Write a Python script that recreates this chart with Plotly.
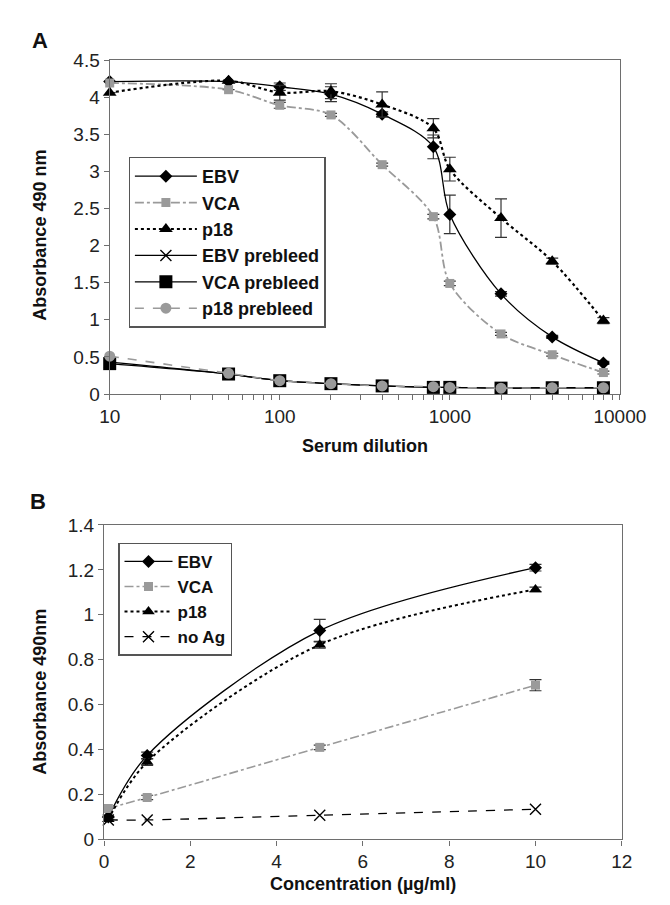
import plotly.graph_objects as go

# ---------------- data ----------------
dilution = [10, 50, 100, 200, 400, 800, 1000, 2000, 4000, 8000]
ebv_a = [4.21, 4.21, 4.14, 4.04, 3.77, 3.33, 2.42, 1.35, 0.77, 0.42]
ebv_a_err = [0.0, 0.0, 0.05, 0.10, 0.03, 0.16, 0.26, 0.03, 0.02, 0.02]
vca_a = [4.19, 4.10, 3.89, 3.76, 3.09, 2.39, 1.49, 0.81, 0.53, 0.29]
vca_a_err = [0.0, 0.0, 0.04, 0.02, 0.02, 0.03, 0.03, 0.02, 0.02, 0.02]
p18_a = [4.06, 4.22, 4.06, 4.08, 3.90, 3.58, 3.03, 2.37, 1.79, 0.99]
p18_a_err = [0.0, 0.0, 0.10, 0.10, 0.17, 0.13, 0.16, 0.26, 0.04, 0.04]
ebv_pre = [0.43, 0.27, 0.18, 0.14, 0.11, 0.09, 0.09, 0.08, 0.085, 0.085]
vca_pre = [0.41, 0.27, 0.18, 0.14, 0.11, 0.09, 0.09, 0.08, 0.085, 0.085]
p18_pre = [0.51, 0.28, 0.18, 0.14, 0.11, 0.10, 0.09, 0.08, 0.085, 0.085]

conc = [0.1, 1, 5, 10]
ebv_b = [0.10, 0.374, 0.93, 1.21]
ebv_b_err = [0.0, 0.015, 0.05, 0.015]
vca_b = [0.138, 0.187, 0.41, 0.687]
vca_b_err = [0.0, 0.01, 0.01, 0.025]
p18_b = [0.09, 0.345, 0.867, 1.113]
p18_b_err = [0.0, 0.015, 0.015, 0.01]
noag_b = [0.087, 0.087, 0.108, 0.135]

names_a = ["EBV", "VCA", "p18", "EBV prebleed", "VCA prebleed", "p18 prebleed"]
names_b = ["EBV", "VCA", "p18", "no Ag"]

# ---------------- styling ----------------
W, H = 670, 905
FONT = "Liberation Sans, Arial, sans-serif"
GREY = "#9a9a9a"
AX = "#6e6e6e"
ERR = "#333333"


def px(x):
    return x / W


def py(y):
    return 1 - y / H


fig = go.Figure()


def add(x, y, name, xa, ya, legend, color, dash, width, symbol, msize,
        err=None, mline=None, mcolor=None):
    marker = dict(symbol=symbol, size=msize, color=mcolor or color)
    if mline:
        marker["line"] = mline
    tr = go.Scatter(
        x=x, y=y, name=name, mode="lines+markers",
        xaxis=xa, yaxis=ya, legend=legend, legendgroup=legend + name,
        line=dict(color=color, dash=dash, width=width, shape="spline", smoothing=0.9),
        marker=marker, cliponaxis=False,
    )
    if err is not None:
        tr.error_y = dict(type="data", array=err, visible=True, color=ERR,
                          thickness=1.2, width=6)
    fig.add_trace(tr)


# Panel A
add(dilution, ebv_a, names_a[0], "x", "y", "legend", "black", "solid", 1.3,
    "diamond", 10, ebv_a_err)
add(dilution, vca_a, names_a[1], "x", "y", "legend", GREY, "dashdot", 1.8,
    "square", 9, vca_a_err)
add(dilution, p18_a, names_a[2], "x", "y", "legend", "black", "dot", 2.2,
    "triangle-up", 12, p18_a_err)
add(dilution, ebv_pre, names_a[3], "x", "y", "legend", "black", "solid", 1.3,
    "x-thin-open", 11, mline=dict(color="black", width=1.4))
add(dilution, vca_pre, names_a[4], "x", "y", "legend", "black", "solid", 1.3,
    "square", 13)
add(dilution, p18_pre, names_a[5], "x", "y", "legend", GREY, "dash", 1.6,
    "circle", 11)

# Panel B
add(conc, ebv_b, names_b[0], "x2", "y2", "legend2", "black", "solid", 1.3,
    "diamond", 10, ebv_b_err)
add(conc, vca_b, names_b[1], "x2", "y2", "legend2", GREY, "dashdot", 1.6,
    "square", 9, vca_b_err)
add(conc, p18_b, names_b[2], "x2", "y2", "legend2", "black", "dot", 2.0,
    "triangle-up", 11, p18_b_err)
add(conc, noag_b, names_b[3], "x2", "y2", "legend2", "black", "dash", 1.3,
    "x-thin-open", 11, mline=dict(color="black", width=1.4))

axis_common = dict(showline=True, linecolor=AX, linewidth=1.3, mirror=True,
                   ticks="outside", ticklen=5, tickcolor=AX, showgrid=False,
                   zeroline=False, tickfont=dict(family=FONT, size=19, color="#222"))

fig.update_layout(
    width=W, height=H,
    margin=dict(l=0, r=0, t=0, b=0),
    paper_bgcolor="white", plot_bgcolor="white",
    showlegend=True,
    xaxis=dict(domain=[px(96), px(636)], anchor="y", type="log", range=[1, 4],
               dtick=1, tickformat="d",
               minor=dict(ticks="outside", ticklen=5, tickcolor=AX, dtick="D1",
                          showgrid=False),
               **axis_common),
    yaxis=dict(domain=[py(385), py(43)], anchor="x", range=[0, 4.5], dtick=0.5,
               **axis_common),
    xaxis2=dict(domain=[px(90), px(638)], anchor="y2", range=[0, 12], dtick=2,
                **axis_common),
    yaxis2=dict(domain=[py(841), py(519)], anchor="x2", range=[0, 1.4], dtick=0.2,
                **axis_common),
    legend=dict(x=px(116), y=py(142), xanchor="left", yanchor="top",
                bordercolor="#555", borderwidth=1.3, bgcolor="white",
                traceorder="grouped", tracegroupgap=0, itemwidth=62,
                font=dict(family=FONT, size=18, color="#111", weight="bold")),
    legend2=dict(x=px(105), y=py(537), xanchor="left", yanchor="top",
                 bordercolor="#555", borderwidth=1.3, bgcolor="white",
                 traceorder="grouped", tracegroupgap=0, itemwidth=48,
                 font=dict(family=FONT, size=17, color="#111", weight="bold")),
)

ann = [
    dict(text="<b>A</b>", x=px(12), y=py(23), xanchor="left", size=22),
    dict(text="<b>B</b>", x=px(10), y=py(495), xanchor="left", size=22),
    dict(text="<b>Serum dilution</b>", x=px(366), y=py(438), xanchor="center", size=18),
    dict(text="<b>Concentration (µg/ml)</b>", x=px(364), y=py(887), xanchor="center", size=18),
]
for a in ann:
    fig.add_annotation(text=a["text"], x=a["x"], y=a["y"], xref="paper", yref="paper",
                       xanchor=a["xanchor"], yanchor="middle", showarrow=False,
                       font=dict(family=FONT, size=a["size"], color="#111"))

fig.add_annotation(text="<b>Absorbance 490 nm</b>", x=px(22), y=py(222),
                   xref="paper", yref="paper", textangle=-90, showarrow=False,
                   xanchor="center", yanchor="middle",
                   font=dict(family=FONT, size=18, color="#111"))
fig.add_annotation(text="<b>Absorbance 490nm</b>", x=px(22), y=py(690),
                   xref="paper", yref="paper", textangle=-90, showarrow=False,
                   xanchor="center", yanchor="middle",
                   font=dict(family=FONT, size=18, color="#111"))

fig.write_html("out.html")
